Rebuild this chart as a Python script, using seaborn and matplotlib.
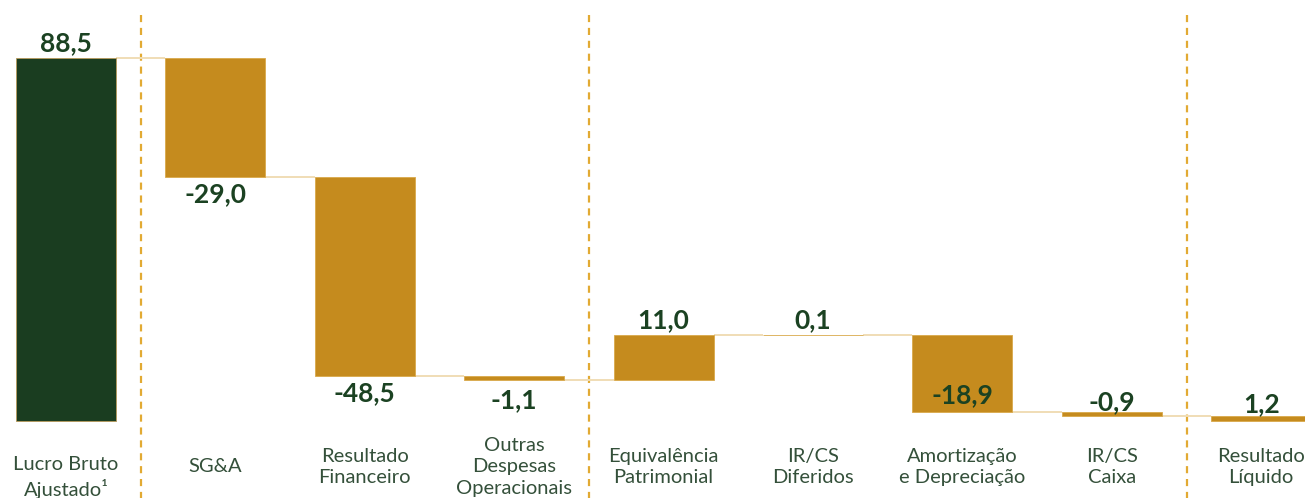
import matplotlib
matplotlib.use("Agg")
import matplotlib.pyplot as plt
import seaborn as sns
import numpy as np
import pandas as pd

# chart data
categories = ["Lucro Bruto\nAjustado¹", "SG&A", "Resultado\nFinanceiro",
              "Outras\nDespesas\nOperacionais", "Equivalência\nPatrimonial",
              "IR/CS\nDiferidos", "Amortização\ne Depreciação", "IR/CS\nCaixa",
              "Resultado\nLíquido"]
deltas = [88.5, -29.0, -48.5, -1.1, 11.0, 0.1, -18.9, -0.9, 1.2]
is_total = [True, False, False, False, False, False, False, False, True]
value_labels = ["88,5", "-29,0", "-48,5", "-1,1", "11,0", "0,1", "-18,9", "-0,9", "1,2"]

# waterfall levels
starts, ends = [], []
level = 0.0
for d, tot in zip(deltas, is_total):
    if tot:
        starts.append(0.0)
        ends.append(d)
        level = d
    else:
        starts.append(level)
        level = level + d
        ends.append(level)
lows = np.minimum(starts, ends)
highs = np.maximum(starts, ends)

df = pd.DataFrame({"cat": categories, "high": highs, "low": lows})

GREEN = "#1A3D20"
GOLD = "#C58B1E"
TXT = "#1B4222"
LBL = "#34503A"
DASH = "#E2AA33"
CONN = "#F0DDB5"

sns.set_style("white")
plt.rcParams["font.family"] = ["Lato", "DejaVu Sans"]

fig = plt.figure(figsize=(13.05, 4.98), dpi=100)
ax = fig.add_axes([0, 0, 1, 1])

bw = 0.67
sns.barplot(data=df, x="cat", y="high", color=GOLD, width=bw, ax=ax,
            saturation=1, errorbar=None, zorder=3)
# turn bars into floating waterfall bars
for i, p in enumerate(ax.patches):
    p.set_y(lows[i])
    p.set_height(highs[i] - lows[i])
    p.set_facecolor(GREEN if i == 0 else GOLD)
    p.set_edgecolor("#B89A5A" if i == 0 else "#D9A94A")
    p.set_linewidth(0.6)

# connector lines
for i in range(len(deltas) - 1):
    ax.plot([i + bw / 2, i + 1 - bw / 2], [ends[i], ends[i]], color=CONN,
            lw=1.4, zorder=2, solid_capstyle="butt")

# dashed separators
for xs in [0.5, 3.5, 7.5]:
    ax.plot([xs, xs], [-30, 99.0], color=DASH, lw=1.6,
            linestyle=(0, (3.2, 2.6)), zorder=1)

# value labels: (anchor, offset in px)
label_pos = [("top", 15), ("bottom", -17), ("bottom", -17), ("bottom", -20),
             ("top", 15), ("top", 15), ("bottom", 17), ("top", 10), ("top", 12)]
for i, (anc, off) in enumerate(label_pos):
    y = highs[i] if anc == "top" else lows[i]
    ax.annotate(value_labels[i], (i, y), xytext=(0, off * 0.72),
                textcoords="offset points", ha="center", va="center",
                fontsize=19, fontweight="bold", color=TXT, zorder=5)

# category labels
for i, c in enumerate(categories):
    txt = "\n" + c if i == 0 else c
    ax.text(i, -11.2, txt, ha="center", va="center", fontsize=14.5,
            color=LBL, linespacing=1.32)

ax.set_xlim(-0.4418, 8.293)
ax.set_ylim(-18.77, 102.6)
ax.set_axis_off()

fig.savefig("out.png", dpi=100)
